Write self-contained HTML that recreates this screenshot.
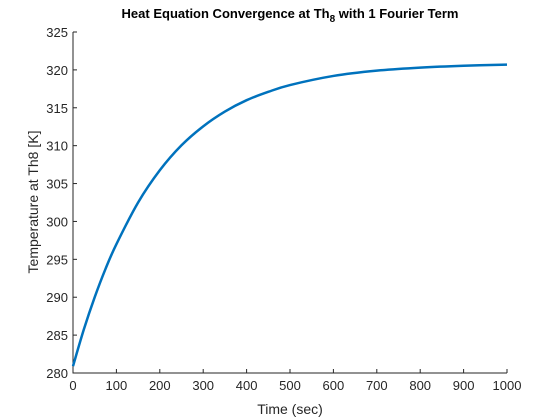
<!DOCTYPE html>
<html><head><meta charset="utf-8"><style>
html,body{margin:0;padding:0;background:#fff;}
svg{display:block;font-family:"Liberation Sans",Arial,sans-serif;}
</style></head><body>
<svg id="chart" width="560" height="420" viewBox="0 0 560 420">
<rect width="560" height="420" fill="#fff"/>
<text x="290" y="18" text-anchor="middle" font-size="13" font-weight="bold" fill="#000">Heat Equation Convergence at Th<tspan font-size="10" dy="4">8</tspan><tspan dy="-4"> with 1 Fourier Term</tspan></text>
<g id="axes"></g>
<path id="curve" fill="none" stroke="#0072BD" stroke-width="2.5" stroke-linejoin="round"/>
<text x="290" y="414" text-anchor="middle" font-size="14" fill="#262626">Time (sec)</text>
<text transform="translate(38,202) rotate(-90)" text-anchor="middle" font-size="14" fill="#262626">Temperature at Th8 [K]</text>
</svg>
<script>
const times=[0,25,50,75,100,150,200,250,300,350,400,450,500,600,700,800,900,1000];
const temps=[280.9,285.75,290.0,293.75,297.0,302.5,306.75,310.05,312.55,314.5,316.0,317.1,318.0,319.2,319.9,320.3,320.55,320.7];
const xTicks=[0,100,200,300,400,500,600,700,800,900,1000];
const yTicks=[280,285,290,295,300,305,310,315,320,325];
const X0=73,X1=507,Y0=373,Y1=32;
const xs=v=>X0+(v-0)/1000*(X1-X0);
const ys=v=>Y0-(v-280)/45*(Y0-Y1);
const NS="http://www.w3.org/2000/svg";
const g=document.getElementById('axes');
function mk(t,a){const e=document.createElementNS(NS,t);for(const k in a)e.setAttribute(k,a[k]);return e;}
let ax=mk('path',{d:`M${X0},${Y1}V${Y0}H${X1}`,fill:'none',stroke:'#262626','stroke-width':1});


g.appendChild(ax);
xTicks.forEach(v=>{
 const x=xs(v);
 const t=mk('line',{x1:x,x2:x,y1:Y0,y2:Y0-4,stroke:'#262626'});
 
 
 g.appendChild(t);
 const l=mk('text',{x:x,y:Y0+17,'text-anchor':'middle','font-size':13,fill:'#262626'});
 l.textContent=v;
 
 
 g.appendChild(l);
});
yTicks.forEach(v=>{
 const y=ys(v);
 const t=mk('line',{x1:X0,x2:X0+4,y1:y,y2:y,stroke:'#262626'});
 
 
 g.appendChild(t);
 const l=mk('text',{x:X0-5,y:y+5,'text-anchor':'end','font-size':13,fill:'#262626'});
 l.textContent=v;
 
 
 g.appendChild(l);
});
const P=times.map((t,i)=>[xs(t),ys(temps[i])]);
let d=`M${P[0][0]},${P[0][1]}`;
for(let i=0;i<P.length-1;i++){
 const p0=P[Math.max(0,i-1)],p1=P[i],p2=P[i+1],p3=P[Math.min(P.length-1,i+2)];
 const c1=[p1[0]+(p2[0]-p0[0])/6,p1[1]+(p2[1]-p0[1])/6];
 const c2=[p2[0]-(p3[0]-p1[0])/6,p2[1]-(p3[1]-p1[1])/6];
 d+=`C${c1[0]},${c1[1]} ${c2[0]},${c2[1]} ${p2[0]},${p2[1]}`;
}
document.getElementById('curve').setAttribute('d',d);
</script>
</body></html>
